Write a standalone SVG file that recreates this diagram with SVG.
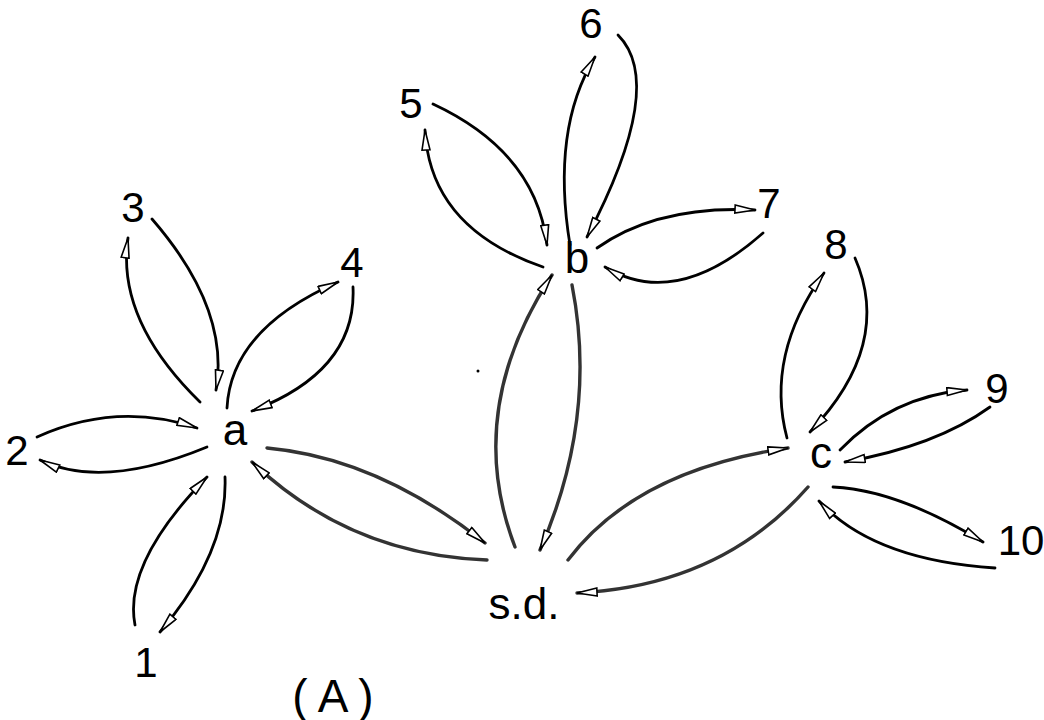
<svg xmlns="http://www.w3.org/2000/svg" width="1044" height="720" viewBox="0 0 1044 720">
<style>
  .lbl { font-family: "Liberation Sans", Arial, sans-serif; font-size: 42px; fill: #000; text-anchor: middle; }
  .let { font-size: 44px; }
  .e { fill: none; stroke: #000; stroke-width: 2.8; stroke-linecap: round; marker-end: url(#ah); }
  .h { fill: none; stroke: #333; stroke-width: 3.4; stroke-linecap: round; marker-end: url(#ah); }
</style>
<defs>
  <marker id="ah" viewBox="0 0 22 10" refX="21" refY="5" markerWidth="22" markerHeight="10" markerUnits="userSpaceOnUse" orient="auto">
    <path d="M1,1 L21,5 L1,9 Z" fill="#fff" stroke="#000" stroke-width="1.6" stroke-linejoin="miter"/>
  </marker>
</defs>
<rect width="1044" height="720" fill="#fff"/>
<g id="connectors">
  <path class="e" d="M152,219 Q230,309 216,390"/>
  <path class="e" d="M200,402 Q116,320 128,238"/>
  <path class="e" d="M227,408 Q231,329 338,282"/>
  <path class="e" d="M353,287 Q357,371 252,411"/>
  <path class="e" d="M37,437 Q117,401 197,428"/>
  <path class="e" d="M207,447 Q103,490 40,460"/>
  <path class="e" d="M135,625 Q123,563 207,477"/>
  <path class="e" d="M225,477 Q228,552 160,632"/>
  <path class="h" d="M267,448 Q378,458 485,543"/>
  <path class="h" d="M487,560 Q350,555 252,462"/>
  <path class="e" d="M433,104 Q536,152 547,245"/>
  <path class="e" d="M543,267 Q430,228 425,130"/>
  <path class="e" d="M570,245 Q551,129 595,57"/>
  <path class="e" d="M618,35 Q667,84 587,237"/>
  <path class="e" d="M597,248 Q658,205 755,210"/>
  <path class="e" d="M763,233 Q676,310 605,267"/>
  <path class="h" d="M515,547 Q463,411 552,275"/>
  <path class="h" d="M572,285 Q598,417 540,550"/>
  <path class="h" d="M568,560 Q636,470 788,448"/>
  <path class="h" d="M808,487 Q721,586 577,593"/>
  <path class="e" d="M787,438 Q765,355 824,273"/>
  <path class="e" d="M855,258 Q893,345 810,432"/>
  <path class="e" d="M840,450 Q892,396 967,390"/>
  <path class="e" d="M990,407 Q936,446 845,462"/>
  <path class="e" d="M833,487 Q898,490 983,542"/>
  <path class="e" d="M995,568 Q873,560 819,501"/>
</g>
<g id="node-1"><text class="lbl" x="146" y="677">1</text></g>
<g id="node-2"><text class="lbl" x="17" y="465">2</text></g>
<g id="node-3"><text class="lbl" x="133" y="222">3</text></g>
<g id="node-4"><text class="lbl" x="352" y="277">4</text></g>
<g id="node-a"><text class="lbl let" x="235" y="445">a</text></g>
<g id="node-5"><text class="lbl" x="411" y="118">5</text></g>
<g id="node-6"><text class="lbl" x="591" y="38">6</text></g>
<g id="node-7"><text class="lbl" x="769" y="218">7</text></g>
<g id="node-b"><text class="lbl let" x="577" y="273">b</text></g>
<g id="node-8"><text class="lbl" x="836" y="259">8</text></g>
<g id="node-9"><text class="lbl" x="997" y="403">9</text></g>
<g id="node-10"><text class="lbl" x="1021" y="555">10</text></g>
<g id="node-c"><text class="lbl let" x="821" y="468">c</text></g>
<g id="node-sd"><text class="lbl let" x="524" y="619">s.d.</text></g>
<circle cx="478" cy="371" r="1.5" fill="#000"/>
<text class="lbl" x="338" y="712" style="font-size:46px;letter-spacing:10px">(A)</text>
</svg>
